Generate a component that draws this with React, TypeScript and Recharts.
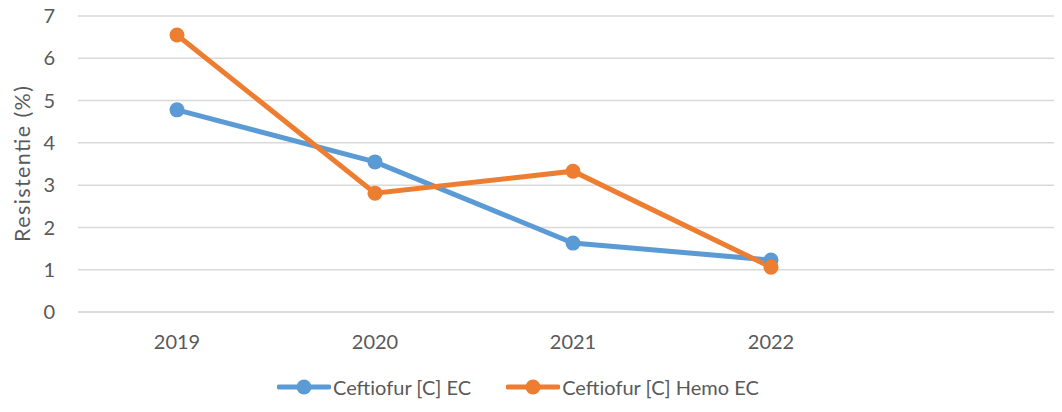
import React from 'react';
import { LineChart, Line, XAxis, YAxis, CartesianGrid, Legend } from 'recharts';

const years = ['2019', '2020', '2021', '2022', ''];
const ceftiofurEC = [4.78, 3.55, 1.63, 1.23, null];
const ceftiofurHemoEC = [6.55, 2.81, 3.33, 1.06, null];
const yTicks = [0, 1, 2, 3, 4, 5, 6, 7];

const seriesNames = ['Ceftiofur [C] EC', 'Ceftiofur [C] Hemo EC'];
const colors = ['#5b9bd5', '#ed7d31'];

const data = years.map((y, i) => ({
  year: y,
  a: ceftiofurEC[i],
  b: ceftiofurHemoEC[i],
}));

const FONT = 'Lato, "Open Sans", sans-serif';
const TEXT = '#595959';

const YLabel = () => (
  <text
    x={22}
    y={164}
    transform="rotate(-90, 22, 164)"
    textAnchor="middle"
    dominantBaseline="central"
    fill={TEXT}
    textLength={156}
    lengthAdjust="spacing"
    style={{ fontFamily: FONT, fontSize: '21.5px' }}
  >
    Resistentie (%)
  </text>
);

const LegendContent = () => (
  <div style={{ display: 'flex', alignItems: 'center', height: 50, paddingLeft: 277, fontFamily: FONT, fontSize: 20, color: TEXT }}>
    {seriesNames.map((n, i) => (
      <div key={n} style={{ display: 'flex', alignItems: 'center', marginRight: 35 }}>
        <svg width={54} height={18} style={{ marginRight: 2 }}>
          <line x1={2} y1={9} x2={52} y2={9} stroke={colors[i]} strokeWidth={5} strokeLinecap="round" />
          <circle cx={27} cy={9} r={7.5} fill={colors[i]} />
        </svg>
        <span>{n}</span>
      </div>
    ))}
  </div>
);

export default function App() {
  return (
    <div style={{ margin: -8, width: 1062, height: 412, background: '#fff' }}>
      <LineChart width={1062} height={412} data={data} margin={{ top: 16, right: 0, bottom: 0, left: 0 }}>
        <CartesianGrid vertical={false} stroke="#d9d9d9" strokeWidth={1.5} />
        <XAxis
          dataKey="year"
          padding={{ left: 99, right: 93 }}
          axisLine={{ stroke: '#d9d9d9', strokeWidth: 1.5 }}
          tickLine={false}
          tickSize={0}
          tickMargin={23}
          height={50}
          tick={{ fill: TEXT, fontFamily: FONT, fontSize: 20 }}
          interval={0}
        />
        <YAxis
          domain={[0, 7]}
          ticks={yTicks}
          width={78}
          axisLine={false}
          tickLine={false}
          tickSize={0}
          tickMargin={23}
          tick={{ fill: TEXT, fontFamily: FONT, fontSize: 20 }}
          label={<YLabel />}
        />
        <Legend verticalAlign="bottom" height={50} content={<LegendContent />} wrapperStyle={{ left: 0, width: 1062 }} />
        <Line dataKey="a" name={seriesNames[0]} stroke={colors[0]} strokeWidth={5} dot={{ r: 7.5, fill: colors[0], stroke: colors[0], strokeWidth: 0 }} isAnimationActive={false} />
        <Line dataKey="b" name={seriesNames[1]} stroke={colors[1]} strokeWidth={5} dot={{ r: 7.5, fill: colors[1], stroke: colors[1], strokeWidth: 0 }} isAnimationActive={false} />
      </LineChart>
    </div>
  );
}
